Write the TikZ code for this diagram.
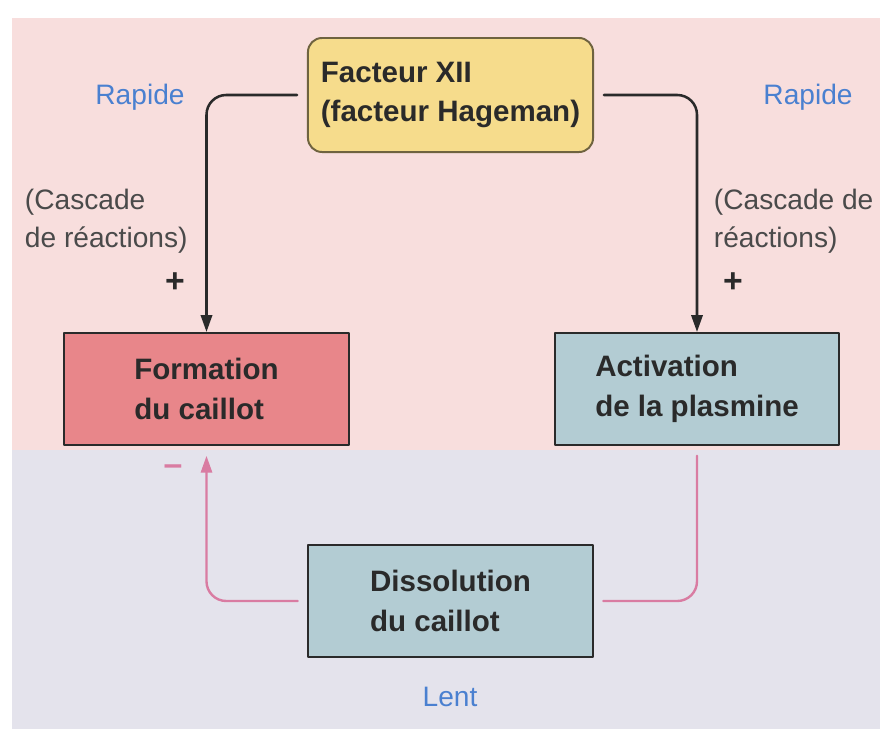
\documentclass[tikz,border=0pt]{standalone}
\usepackage{fontspec}
\setmainfont{Liberation Sans}
\usetikzlibrary{arrows.meta,positioning}
\definecolor{bgrose}{HTML}{F8DEDD}
\definecolor{bglilas}{HTML}{E4E3EC}
\definecolor{jaune}{HTML}{F6DC8C}
\definecolor{rouge}{HTML}{E8868A}
\definecolor{grisbleu}{HTML}{B3CCD3}
\definecolor{rosefleche}{HTML}{D97CA2}
\definecolor{bleutexte}{HTML}{4A80D0}
\definecolor{encre}{HTML}{2A2A2A}
\tikzset{schema/.style={
  x=0.025cm,y=-0.025cm,
  >=Stealth,line join=round,line cap=round,
  font=\fontsize{20}{27}\selectfont
},
boite/.style={draw=encre,line width=1.4pt,align=left,text=encre,
  font=\fontsize{21}{28}\selectfont\bfseries,
  minimum width=7.1cm,minimum height=2.8cm},
vitesse/.style={text=bleutexte},
note/.style={text=encre!85,align=left,anchor=north west},
signe/.style={font=\fontsize{24}{24}\selectfont\bfseries},
fleche/.style={draw=encre,line width=1.8pt,rounded corners=14pt,
  -{Triangle[length=12pt,width=8pt]}},
retour/.style={draw=rosefleche,line width=1.7pt,rounded corners=14pt}
}

\begin{document}
\begin{tikzpicture}[schema]
  \clip (0,0) rectangle (880,729);
  \useasboundingbox (0,0) rectangle (880,729);
  \fill[white] (0,0) rectangle (880,729);
  \fill[bgrose] (12,18) rectangle (880,450);
  \fill[bglilas] (12,450) rectangle (880,729);

  \node[boite,fill=jaune,draw=jaune!45!black,rounded corners=10pt,
    minimum width=7.125cm,minimum height=2.85cm] (xii) at (450.5,95)
    {Facteur XII\\(facteur Hageman)};
  \node[boite,fill=rouge] (caillot) at (206.5,389) {Formation\\du caillot};
  \node[boite,fill=grisbleu] (plasmine) at (697,389) {Activation\\de la plasmine};
  \node[boite,fill=grisbleu] (dissol) at (450.5,601) {Dissolution\\du caillot};

  \draw[fleche,shorten <=7pt] (xii.west) -| (caillot.north);
  \draw[fleche,shorten <=7pt] (xii.east) -| (plasmine.north);
  \draw[retour,-{Triangle[length=12pt,width=8pt]},shorten <=7pt,shorten >=7pt]
    (dissol.west) -| (caillot.south);
  \draw[retour,shorten <=7pt,shorten >=7pt] (dissol.east) -| (plasmine.south);

  \node[vitesse] (rapideg) at (140,97) {Rapide};
  \node[vitesse] (rapided) at (808,97) {Rapide};
  \node[note] (cascadeg) at (20,184) {(Cascade\\de réactions)};
  \node[note] (cascaded) at (709,184) {(Cascade de\\réactions)};
  \node[signe,text=encre] (plusg) at (175,283) {+};
  \node[signe,text=encre] (plusd) at (733,283) {+};
  \node[signe,text=rosefleche] (moins) at (173,470) {--};
  \node[vitesse] (lent) at (450,697) {Lent};
\end{tikzpicture}
\end{document}
